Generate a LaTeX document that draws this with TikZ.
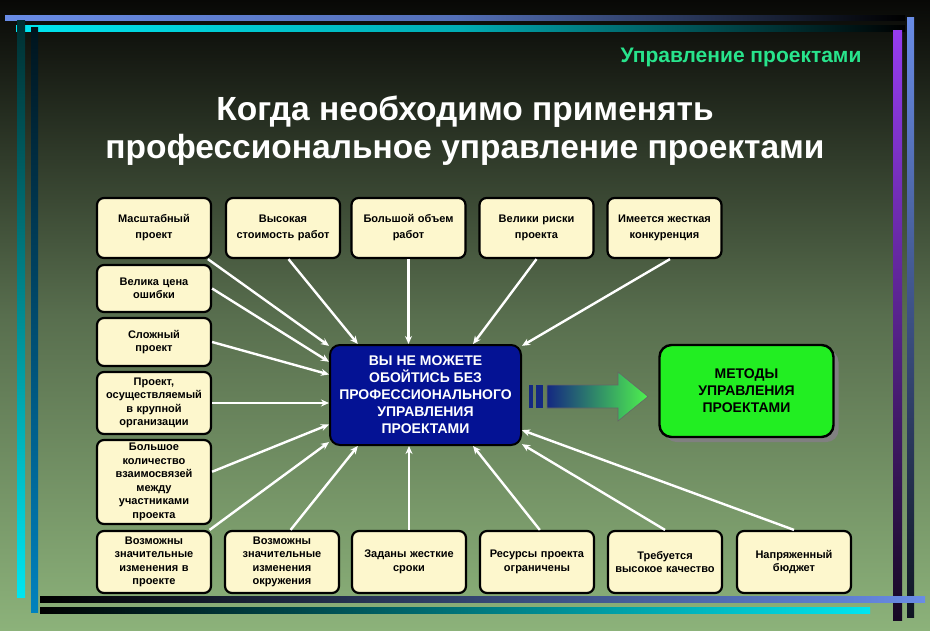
\documentclass[tikz,border=0pt]{standalone}
\usepackage{fontspec}
\setmainfont{Liberation Sans}
\usetikzlibrary{arrows.meta,shadows}

\definecolor{cream}{RGB}{253,247,205}
\definecolor{navy}{RGB}{4,18,148}
\definecolor{lime}{RGB}{34,238,34}
\definecolor{mint}{RGB}{40,228,140}
\definecolor{bgtop}{RGB}{8,8,6}
\definecolor{bgmid}{RGB}{88,110,78}
\definecolor{bgbot}{RGB}{140,178,122}
\definecolor{barblue}{RGB}{105,140,230}
\definecolor{barcyan}{RGB}{0,230,240}
\definecolor{barteal}{RGB}{0,130,190}
\definecolor{barpurple}{RGB}{150,60,240}
\definecolor{arrowblue}{RGB}{20,40,130}

\begin{document}
\begin{tikzpicture}[x=1pt, y=-1pt,
        box/.style={draw, line width=2.2pt, rounded corners=7pt, fill=cream,
        align=center, text width=110pt, minimum width=114pt, inner sep=1pt,
        font=\fontsize{11}{13.5}\selectfont\bfseries},
        topbox/.style={box, minimum height=60pt, font=\fontsize{11}{16}\selectfont\bfseries},
        hub/.style={draw, line width=2pt, rounded corners=10pt, fill=navy,
        text=white, align=center, font=\fontsize{14}{17}\selectfont\bfseries},
        link/.style={draw=white, line width=2.4pt, -{Stealth[length=8pt,width=7pt]}}]

        % background and frame bars
        \shade[top color=bgtop, bottom color=bgbot, middle color=bgmid] (0,0) rectangle (930,630);
        \shade[left color=barblue, right color=black, middle color=barblue!80!black] (5,15) rectangle (905,20);
        \shade[left color=barcyan, right color=black, middle color=barcyan!75!black] (16,25) rectangle (905,31);
        \shade[top color=black!80!barcyan, bottom color=barcyan] (17,20) rectangle (25,597);
        \shade[top color=black!85!barteal, bottom color=barteal] (31,27) rectangle (38,612);
        \shade[top color=barpurple, bottom color=black!85!barpurple] (893,30) rectangle (902,620);
        \shade[top color=barblue, bottom color=black!85!barblue] (907,17) rectangle (914,617);
        \shade[left color=black, right color=barblue] (40,596) rectangle (925,602);
        \shade[left color=black, right color=barcyan] (40,607) rectangle (870,613);

        % titles
        \node[text=mint, font=\fontsize{21}{23}\selectfont\bfseries] (H) at (741,57) {Управление проектами};
        \node[text=white, align=center, font=\fontsize{33.5}{38}\selectfont\bfseries] (T) at (465,131)
            {Когда необходимо применять\\профессиональное управление проектами};

        % top row
        \node[topbox] (T1) at (154,228) {Масштабный\\проект};
        \node[topbox] (T2) at (283,228) {Высокая\\стоимость работ};
        \node[topbox] (T3) at (408.5,228) {Большой объем\\работ};
        \node[topbox] (T4) at (536.5,228) {Велики риски\\проекта};
        \node[topbox] (T5) at (664.5,228) {Имеется жесткая\\конкуренция};

        % left column
        \node[box, minimum height=47pt] (L1) at (154,288.5) {Велика цена\\ошибки};
        \node[box, minimum height=48pt] (L2) at (154,342) {Сложный\\проект};
        \node[box, minimum height=62pt] (L3) at (154,403) {Проект,\\осуществляемый\\в крупной\\организации};
        \node[box, minimum height=84pt] (L4) at (154,482) {Большое\\количество\\взаимосвязей\\между\\участниками\\проекта};

        % bottom row
        \node[box, minimum height=62pt] (B1) at (154,562) {Возможны\\значительные\\изменения в\\проекте};
        \node[box, minimum height=62pt] (B2) at (282,562) {Возможны\\значительные\\изменения\\окружения};
        \node[box, minimum height=62pt] (B3) at (409,562) {Заданы жесткие\\сроки};
        \node[box, minimum height=62pt] (B4) at (537,562) {Ресурсы проекта\\ограничены};
        \node[box, minimum height=62pt] (B5) at (665,562) {Требуется\\высокое качество};
        \node[box, minimum height=62pt] (B6) at (794,562) {Напряженный\\бюджет};

        % centre and result
        \node[hub, minimum width=191pt, minimum height=100pt] (C) at (425.5,395)
            {ВЫ НЕ МОЖЕТЕ\\ОБОЙТИСЬ БЕЗ\\ПРОФЕССИОНАЛЬНОГО\\УПРАВЛЕНИЯ\\ПРОЕКТАМИ};
        \node[draw, line width=2.4pt, rounded corners=12pt, fill=lime, align=center,
            minimum width=174pt, minimum height=92pt,
            font=\fontsize{14}{17}\selectfont\bfseries,
            drop shadow={shadow xshift=5pt, shadow yshift=-5pt, fill=black!50, opacity=1}]
            (M) at (746.5,391) {МЕТОДЫ\\УПРАВЛЕНИЯ\\ПРОЕКТАМИ};

        % big arrow
        \fill[arrowblue] (529,385) rectangle (533,408);
        \fill[arrowblue] (536,385) rectangle (543,408);
        \shadedraw[draw=black!60, line width=0.6pt, left color=arrowblue, right color=lime!80!white]
            (547,385) -- (618,385) -- (618,372) -- (648,396.5) -- (618,421) -- (618,408) -- (547,408) -- cycle;

        % connectors
        \draw[link] (T1.-30) -- (C.153);
        \draw[link] (T2.-80) -- (C.143);
        \draw[link] (T3.south) -- (T3.south |- C.north);
        \draw[link] (T4.south) -- (C.47);
        \draw[link] (T5.-80) -- (C.27);
        \draw[link] (L1.east) -- (C.161);
        \draw[link] (L2.east) -- (C.168);
        \draw[link] (L3.east) -- (L3.east -| C.west);
        \draw[link] (L4.10) -- (C.197);
        \draw[link] (B1.30) -- (C.206);
        \draw[link] (B2.75) -- (C.217);
        \draw[link] (B3.north) -- (B3.north |- C.south);
        \draw[link] (B4.85) -- (C.313);
        \draw[link] (B5.north) -- (C.333);
        \draw[link] (B6.north) -- (C.340);
    \end{tikzpicture}
\end{document}
